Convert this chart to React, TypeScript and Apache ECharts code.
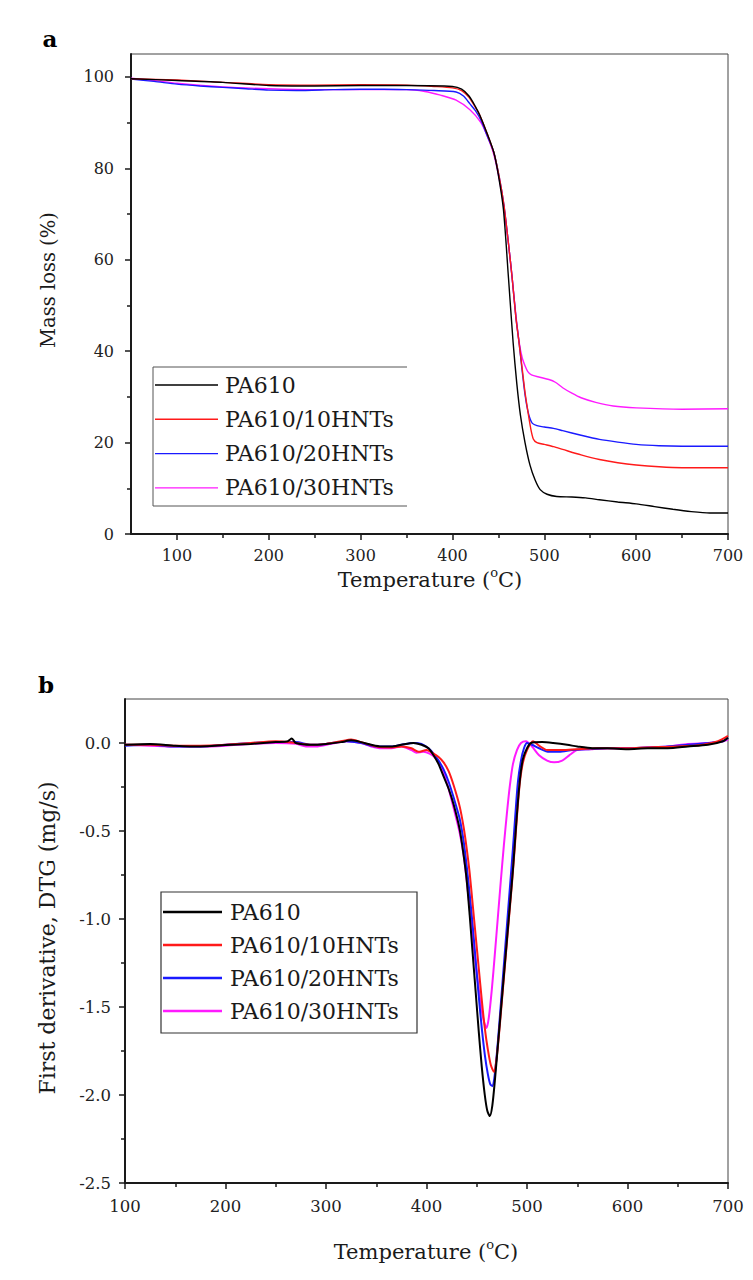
import React, { useEffect, useRef } from "react";
import * as echarts from "echarts";

// ---------- names / colours ----------
const seriesNames = ["PA610", "PA610/10HNTs", "PA610/20HNTs", "PA610/30HNTs"];
const seriesColors = ["#000000", "#ff1a1a", "#1a1aff", "#ff1aff"];

// ---------- ticks ----------
const tgaXTicks = [100, 200, 300, 400, 500, 600, 700];
const tgaXMinorTicks = [150, 250, 350, 450, 550, 650];
const tgaYTicks = [0, 20, 40, 60, 80, 100];
const tgaYMinorTicks = [10, 30, 50, 70, 90];
const dtgXTicks = [100, 200, 300, 400, 500, 600, 700];
const dtgXMinorTicks = [150, 250, 350, 450, 550, 650];
const dtgYTicks = [0, -0.5, -1, -1.5, -2, -2.5];
const dtgYMinorTicks = [-0.25, -0.75, -1.25, -1.75, -2.25];

// ---------- (a) TGA: [temperature °C, mass %] ----------
const tgaPA610 = [
  [50, 99.6], [100, 99.2], [150, 98.8], [200, 98.1], [250, 98.0], [300, 98.1], [350, 98.1],
  [400, 97.9], [410, 97.3], [418, 95.8], [425, 93.5], [430, 91.5], [437, 88], [445, 83.5],
  [450, 78.5], [455.5, 71], [461, 56], [466, 42], [470, 33], [474, 26], [479, 20], [484.5, 15],
  [490, 11.8], [495.5, 9.7], [503, 8.7], [513.5, 8.2], [530, 8.1], [545, 7.9], [560, 7.5],
  [580, 7.0], [600, 6.6], [620, 6.0], [640, 5.4], [660, 4.9], [680, 4.6], [700, 4.6],
];
const tga10HNTs = [
  [50, 99.6], [100, 99.3], [150, 98.8], [200, 98.3], [250, 98.2], [300, 98.3], [350, 98.2],
  [380, 97.9], [400, 97.6], [410, 97.0], [418, 95.5], [425, 93.3], [430, 91.5], [437, 88],
  [445, 83.5], [451, 78], [456, 72], [461, 63.5], [465, 56], [469, 47.5], [472.6, 41.7],
  [476, 36], [479, 31], [482, 27], [485, 23.3], [488, 20.8], [492, 20.0], [500, 19.6],
  [510, 19.1], [520, 18.5], [540, 17.3], [560, 16.3], [580, 15.6], [600, 15.1], [625, 14.7],
  [650, 14.5], [700, 14.5],
];
const tga20HNTs = [
  [50, 99.5], [75, 99.0], [100, 98.4], [125, 98.0], [150, 97.7], [175, 97.4], [200, 97.1],
  [230, 97.0], [270, 97.2], [300, 97.3], [325, 97.3], [350, 97.2], [380, 97.0], [404, 96.7],
  [412, 95.8], [419, 94.1], [425, 92.6], [431, 90.5], [438, 87], [445, 83.5], [451, 78],
  [456, 72], [461, 63.5], [465, 56], [469, 47.5], [472.6, 41.7], [476, 35.5], [479, 30.5],
  [482, 27], [484.5, 25.2], [487, 24.2], [492, 23.7], [500, 23.4], [510, 23.1], [520, 22.6],
  [540, 21.6], [560, 20.7], [580, 20.1], [600, 19.6], [625, 19.3], [650, 19.2], [700, 19.2],
];
const tga30HNTs = [
  [50, 99.7], [75, 99.2], [100, 98.6], [150, 97.8], [200, 97.4], [250, 97.2], [300, 97.2],
  [350, 97.2], [370, 96.8], [387, 96.0], [404, 94.9], [419, 92.8], [431, 90], [438, 87],
  [445, 83], [451, 77.5], [456, 71.5], [461, 63.5], [465, 56], [469, 48], [472.6, 42],
  [476, 38.5], [479, 36.8], [482, 35.5], [486, 34.8], [495, 34.3], [505, 33.8], [512, 33.2],
  [520, 32.0], [530, 30.8], [540, 29.8], [556, 28.8], [575, 28.0], [600, 27.6], [650, 27.3],
  [700, 27.4],
];

// ---------- (b) DTG: [temperature °C, mg/s] ----------
const dtgPA610 = [
  [100, -0.01], [125, -0.005], [150, -0.015], [175, -0.02], [200, -0.012], [225, -0.005],
  [250, 0.005], [262, 0.01], [266, 0.025], [270, 0.0], [285, -0.01], [300, -0.005], [315, 0.005],
  [325, 0.015], [335, 0.005], [345, -0.01], [355, -0.02], [365, -0.02], [375, -0.01], [387, 0.0],
  [395, -0.01], [402, -0.03], [407, -0.07], [412, -0.12], [417, -0.19], [422, -0.26], [427, -0.35],
  [433, -0.49], [437, -0.64], [440, -0.78], [443, -0.98], [446, -1.2], [449, -1.42], [452, -1.64],
  [455, -1.84], [458, -2.0], [460.5, -2.09], [463, -2.12], [465.5, -2.06], [468, -1.92],
  [471, -1.72], [474, -1.52], [477, -1.32], [480, -1.12], [483, -0.92], [486, -0.72],
  [488.5, -0.52], [491, -0.33], [493.5, -0.18], [496, -0.09], [500, -0.03], [504, 0.0],
  [515, 0.005], [526, 0.0], [540, -0.01], [550, -0.02], [565, -0.03], [580, -0.03], [600, -0.035],
  [620, -0.03], [640, -0.03], [660, -0.02], [680, -0.01], [695, 0.01], [700, 0.03],
];
const dtg10HNTs = [
  [100, -0.01], [125, -0.01], [150, -0.015], [175, -0.015], [200, -0.01], [225, 0.0], [250, 0.01],
  [270, 0.0], [285, -0.01], [300, -0.005], [315, 0.01], [325, 0.02], [335, 0.005], [350, -0.02],
  [365, -0.025], [375, -0.02], [385, -0.03], [392, -0.05], [400, -0.04], [407, -0.06], [412, -0.08],
  [417, -0.11], [422, -0.16], [427, -0.24], [433, -0.36], [437, -0.48], [440, -0.6], [443, -0.74],
  [446, -0.92], [449, -1.1], [452, -1.28], [455, -1.46], [458, -1.62], [461, -1.74], [464, -1.83],
  [467.3, -1.87], [470, -1.78], [473, -1.6], [476, -1.4], [479, -1.2], [482, -1.0], [485, -0.8],
  [488, -0.58], [490.5, -0.38], [493, -0.22], [496, -0.11], [500, -0.04], [506, 0.01],
  [512, -0.015], [520, -0.04], [535, -0.04], [550, -0.035], [570, -0.03], [600, -0.03],
  [620, -0.025], [650, -0.02], [675, -0.01], [690, 0.01], [700, 0.04],
];
const dtg20HNTs = [
  [100, -0.015], [125, -0.01], [150, -0.02], [175, -0.02], [200, -0.01], [225, 0.0], [250, 0.005],
  [270, 0.005], [285, -0.01], [300, -0.005], [320, 0.01], [335, 0.0], [350, -0.02], [365, -0.02],
  [375, -0.01], [387, 0.0], [395, -0.005], [402, -0.03], [407, -0.06], [412, -0.1], [417, -0.15],
  [422, -0.22], [427, -0.31], [433, -0.43], [437, -0.56], [440, -0.7], [443, -0.86], [446, -1.04],
  [449, -1.24], [452, -1.44], [455, -1.62], [458, -1.77], [461, -1.88], [463.5, -1.94],
  [465.7, -1.95], [468, -1.88], [471, -1.7], [474, -1.48], [477, -1.26], [480, -1.04],
  [483, -0.82], [486, -0.6], [488.5, -0.4], [491, -0.22], [494, -0.1], [497, -0.03], [500, 0.0],
  [505, -0.01], [512, -0.03], [522, -0.05], [532, -0.05], [545, -0.04], [560, -0.035], [580, -0.03],
  [600, -0.03], [620, -0.025], [640, -0.02], [660, -0.01], [680, 0.0], [695, 0.01], [700, 0.03],
];
const dtg30HNTs = [
  [100, -0.01], [125, -0.015], [150, -0.02], [175, -0.02], [200, -0.015], [225, -0.005], [250, 0.0],
  [270, -0.005], [280, -0.02], [290, -0.02], [305, -0.005], [320, 0.01], [335, 0.0], [345, -0.02],
  [355, -0.03], [365, -0.03], [375, -0.02], [385, -0.04], [390, -0.055], [397, -0.05], [403, -0.06],
  [408, -0.08], [413, -0.12], [417, -0.17], [422, -0.26], [427, -0.37], [433, -0.51], [437, -0.64],
  [440, -0.78], [443, -0.94], [446, -1.1], [449, -1.26], [452, -1.4], [455, -1.52], [457.5, -1.59],
  [459.7, -1.62], [462, -1.56], [465, -1.4], [468, -1.2], [471, -0.99], [474, -0.78],
  [477, -0.58], [480, -0.4], [483, -0.24], [486, -0.12], [490, -0.04], [494, 0.0], [499, 0.01],
  [505, -0.02], [512, -0.07], [520, -0.1], [527, -0.11], [535, -0.1], [542, -0.07], [550, -0.04],
  [565, -0.035], [580, -0.03], [600, -0.03], [620, -0.025], [640, -0.02], [660, -0.005], [680, 0.0],
  [695, 0.01], [700, 0.02],
];

const tgaData = [tgaPA610, tga10HNTs, tga20HNTs, tga30HNTs];
const dtgData = [dtgPA610, dtg10HNTs, dtg20HNTs, dtg30HNTs];

const FONT = "'DejaVu Serif', serif";
const AXIS = "#1a1a1a";

function majorAxis(o: any) {
  return {
    type: "value",
    gridIndex: o.grid,
    position: o.position,
    min: o.min,
    max: o.max,
    axisLine: { show: true, onZero: false, lineStyle: { color: AXIS, width: 2 } },
    axisTick: { show: true, inside: false, length: 6, customValues: o.ticks, lineStyle: { color: AXIS, width: 1.5 } },
    axisLabel: {
      show: true,
      customValues: o.ticks,
      margin: o.margin,
      fontSize: o.fontSize,
      fontFamily: FONT,
      color: "#222",
      formatter: o.formatter,
    },
    splitLine: { show: false },
  };
}
function minorAxis(o: any) {
  return {
    type: "value",
    gridIndex: o.grid,
    position: o.position,
    min: o.min,
    max: o.max,
    axisLine: { show: false, onZero: false },
    axisTick: { show: true, inside: false, length: 4, customValues: o.ticks, lineStyle: { color: AXIS, width: 1.5 } },
    axisLabel: { show: false },
    splitLine: { show: false },
  };
}

function legendGraphics(x0: number, y0: number, step: number, lineLen: number, textX: number, lw: number) {
  const els: any[] = [];
  seriesNames.forEach((name, i) => {
    const y = y0 + step * i;
    els.push({ type: "line", shape: { x1: x0, y1: y, x2: x0 + lineLen, y2: y }, style: { stroke: seriesColors[i], lineWidth: lw } });
    els.push({
      type: "text",
      x: textX,
      y: y,
      style: { text: name, fill: "#1a1a1a", fontSize: 22, fontFamily: FONT, align: "left", verticalAlign: "middle" },
    });
  });
  return els;
}

function titleText(x: number, y: number, size: number, rotate: boolean, text: string, sup: boolean) {
  return {
    type: "text",
    x,
    y,
    rotation: rotate ? Math.PI / 2 : 0,
    style: sup
      ? {
          text: "{a|Temperature (}{s|o}{a|C)}",
          align: "center",
          verticalAlign: "middle",
          rich: {
            a: { fontSize: size, fontFamily: FONT, fill: "#1a1a1a", lineHeight: size + 4, verticalAlign: "bottom" },
            s: { fontSize: Math.round(size * 0.62), fontFamily: FONT, fill: "#1a1a1a", lineHeight: size + 4, verticalAlign: "top" },
          },
        }
      : { text, fontSize: size, fontFamily: FONT, fill: "#1a1a1a", align: "center", verticalAlign: "middle" },
  };
}

export default function App() {
  const ref = useRef<HTMLDivElement>(null);
  useEffect(() => {
    if (!ref.current) return;
    const chart = echarts.init(ref.current, null, { renderer: "svg" });
    const series: any[] = [];
    tgaData.forEach((d, i) =>
      series.push({
        name: seriesNames[i],
        type: "line",
        xAxisIndex: 0,
        yAxisIndex: 0,
        data: d,
        showSymbol: false,
        smooth: 0.25,
        lineStyle: { color: seriesColors[i], width: 1.4 },
        z: 3 + (3 - i),
      })
    );
    dtgData.forEach((d, i) =>
      series.push({
        name: seriesNames[i] + " ",
        type: "line",
        xAxisIndex: 2,
        yAxisIndex: 2,
        data: d,
        showSymbol: false,
        smooth: 0.25,
        lineStyle: { color: seriesColors[i], width: 2 },
        z: 3 + (3 - i),
      })
    );
    const topLegend = [
      { type: "line", shape: { x1: 153, y1: 367, x2: 407, y2: 367 }, style: { stroke: "#555", lineWidth: 1 } },
      { type: "line", shape: { x1: 153, y1: 506, x2: 407, y2: 506 }, style: { stroke: "#555", lineWidth: 1 } },
      { type: "line", shape: { x1: 153, y1: 367, x2: 153, y2: 506 }, style: { stroke: "#555", lineWidth: 1 } },
      { type: "rect", shape: { x: 154, y: 368, width: 252, height: 137 }, style: { fill: "#ffffff" }, z: -1 },
      ...legendGraphics(155, 385, 34.3, 63, 225, 1.4),
    ];
    const bottomLegend = [
      { type: "rect", shape: { x: 161, y: 892, width: 256, height: 141 }, style: { fill: "#ffffff", stroke: "#333", lineWidth: 1.2 } },
      ...legendGraphics(163, 912, 33, 59, 230, 2.5),
    ];
    chart.setOption({
      animation: false,
      backgroundColor: "#ffffff",
      grid: [
        { left: 131, top: 54, width: 597, height: 480, show: true, borderColor: "#444", borderWidth: 1, backgroundColor: "transparent" },
        { left: 125, top: 699, width: 603, height: 484, show: true, borderColor: "#444", borderWidth: 1, backgroundColor: "transparent" },
      ],
      xAxis: [
        majorAxis({ grid: 0, position: "bottom", min: 50, max: 700, ticks: tgaXTicks, margin: 13, fontSize: 16 }),
        minorAxis({ grid: 0, position: "bottom", min: 50, max: 700, ticks: tgaXMinorTicks }),
        majorAxis({ grid: 1, position: "bottom", min: 100, max: 700, ticks: dtgXTicks, margin: 15, fontSize: 16.5 }),
        minorAxis({ grid: 1, position: "bottom", min: 100, max: 700, ticks: dtgXMinorTicks }),
      ],
      yAxis: [
        majorAxis({ grid: 0, position: "left", min: 0, max: 105, ticks: tgaYTicks, margin: 17, fontSize: 16 }),
        minorAxis({ grid: 0, position: "left", min: 0, max: 105, ticks: tgaYMinorTicks }),
        majorAxis({
          grid: 1, position: "left", min: -2.5, max: 0.25, ticks: dtgYTicks, margin: 14, fontSize: 16.5,
          formatter: (v: number) => v.toFixed(1),
        }),
        minorAxis({ grid: 1, position: "left", min: -2.5, max: 0.25, ticks: dtgYMinorTicks }),
      ],
      series,
      graphic: [
        { type: "text", x: 50, y: 38, style: { text: "a", fontSize: 23, fontWeight: "bold", fontFamily: FONT, fill: "#000", align: "center", verticalAlign: "middle" } },
        { type: "text", x: 46, y: 684, style: { text: "b", fontSize: 23, fontWeight: "bold", fontFamily: FONT, fill: "#000", align: "center", verticalAlign: "middle" } },
        titleText(430, 578, 21, false, "", true),
        titleText(48, 280, 19.5, true, "Mass loss (%)", false),
        titleText(426, 1250, 21, false, "", true),
        titleText(47, 938, 22, true, "First derivative, DTG (mg/s)", false),
        ...topLegend,
        ...bottomLegend,
      ],
    });
    return () => chart.dispose();
  }, []);
  return <div ref={ref} style={{ position: "absolute", left: 0, top: 0, width: 753, height: 1280 }} />;
}
